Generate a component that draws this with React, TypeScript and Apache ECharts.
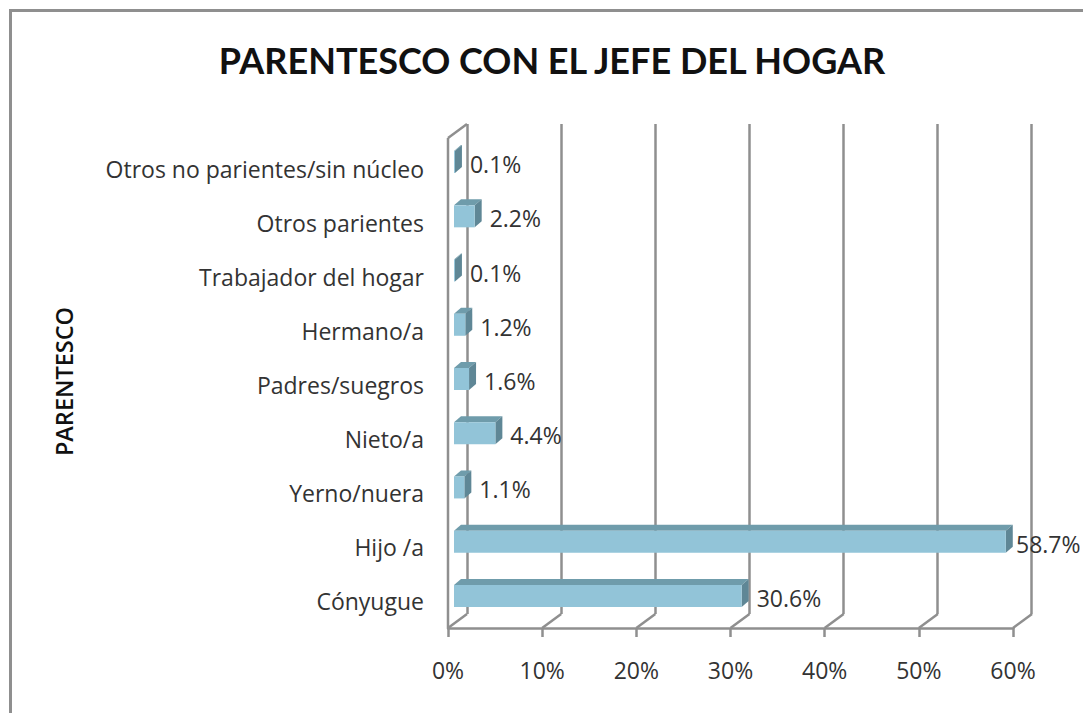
import React, { useEffect, useRef } from "react";
import * as echarts from "echarts";

const categories = ["Cónyugue", "Hijo /a", "Yerno/nuera", "Nieto/a", "Padres/suegros", "Hermano/a", "Trabajador del hogar", "Otros parientes", "Otros no parientes/sin núcleo"];
const values = [30.6, 58.7, 1.1, 4.4, 1.6, 1.2, 0.1, 2.2, 0.1];
const xTicks = [0, 10, 20, 30, 40, 50, 60];
const titleText = "PARENTESCO CON EL JEFE DEL HOGAR";
const yAxisName = "PARENTESCO";
const FONT = "'Open Sans', sans-serif";
const TITLE_FONT = "Lato, 'Open Sans', sans-serif";
const GRID = "#8f8f8f";
const FACE = "#92c4d8";
const SIDE = "#5f8796";
const TOP = "#6f9cab";
const TEXT = "#333333";

export default function App() {
  const ref = useRef<HTMLDivElement>(null);
  useEffect(() => {
    const chart = echarts.init(ref.current!, undefined, { renderer: "svg" });
    const hiddenCat = { type: "category", data: categories, axisLine: { show: false }, axisTick: { show: false }, axisLabel: { show: false } };
    const xBase = { type: "value", min: 0, max: 60, interval: 10 };
    chart.setOption({
      animation: false,
      backgroundColor: "#fff",
      title: { text: titleText, left: 547, top: 37, textAlign: "center", textStyle: { fontFamily: TITLE_FONT, fontSize: 36, fontWeight: "bold", color: "#111" } },
      grid: [
        { left: 448, right: 70, top: 142, bottom: 85 },
        { left: 467, right: 52, top: 124, bottom: 99 },
        { left: 454, right: 65, top: 135, bottom: 90 },
      ],
      xAxis: [
        { ...xBase, gridIndex: 0, axisLine: { show: true, lineStyle: { color: GRID, width: 2.5 } }, axisTick: { show: true, length: 9, lineStyle: { color: GRID, width: 2.5 } }, splitLine: { show: false }, axisLabel: { margin: 30, fontFamily: FONT, fontSize: 23, color: TEXT, formatter: "{value}%" } },
        { ...xBase, gridIndex: 1, axisLine: { show: false }, axisTick: { show: false }, axisLabel: { show: false }, splitLine: { show: true, lineStyle: { color: GRID, width: 2.5 } } },
        { ...xBase, gridIndex: 2, axisLine: { show: false }, axisTick: { show: false }, axisLabel: { show: false }, splitLine: { show: false } },
      ],
      yAxis: [
        { type: "category", data: categories, gridIndex: 0, axisLine: { show: false }, axisTick: { show: false }, axisLabel: { margin: 24, fontFamily: FONT, fontSize: 23, color: TEXT }, name: yAxisName, nameLocation: "middle", nameGap: 372, nameTextStyle: { fontFamily: FONT, fontSize: 23.5, fontWeight: 600, color: "#111", padding: [0, 0, 0, 7] } },
        { ...hiddenCat, gridIndex: 1 },
        { ...hiddenCat, gridIndex: 2 },
      ],
      series: [
        {
          // wall and floor edges, drawn from the tick values of the front axis
          type: "custom", xAxisIndex: 0, yAxisIndex: 0, z: 1, clip: false, silent: true,
          data: xTicks.map((t) => [t]),
          renderItem: (_p: any, api: any) => {
            const x = api.coord([api.value(0), 0])[0];
            const lineStyle = { stroke: GRID, lineWidth: 2.5 };
            const children: any[] = [{ type: "line", shape: { x1: x, y1: 628, x2: x + 19, y2: 614 }, style: lineStyle }];
            if (api.value(0) === 0) {
              children.push({ type: "line", shape: { x1: x, y1: 138, x2: x, y2: 628 }, style: lineStyle });
              children.push({ type: "line", shape: { x1: x, y1: 138, x2: x + 19, y2: 124 }, style: lineStyle });
            }
            return { type: "group", children };
          },
        },
        {
          type: "custom", xAxisIndex: 2, yAxisIndex: 2, z: 3, clip: false,
          data: values.map((v, i) => [v, i]),
          renderItem: (_p: any, api: any) => {
            const v = api.value(0);
            const [x1, yc] = api.coord([v, api.value(1)]);
            const x0 = api.coord([0, api.value(1)])[0];
            const h = 22, dx = 7, dy = 6;
            const y0 = yc - h / 2, y1 = yc + h / 2;
            const gap = x1 + dx + 8 + 66 > 1082 ? 1082 - 66 - x1 - dx : 8;
            return {
              type: "group",
              children: [
                { type: "polygon", shape: { points: [[x0, y0], [x0 + dx, y0 - dy], [x1 + dx, y0 - dy], [x1, y0]] }, style: { fill: TOP } },
                { type: "polygon", shape: { points: [[x1, y0], [x1 + dx, y0 - dy], [x1 + dx, y1 - dy], [x1, y1]] }, style: { fill: SIDE } },
                { type: "rect", shape: { x: x0, y: y0, width: x1 - x0, height: h }, style: { fill: FACE } },
                { type: "text", x: x1 + dx + gap, y: yc + 2, style: { text: v.toFixed(1) + "%", fontFamily: FONT, fontSize: 23, fill: TEXT, verticalAlign: "middle" } },
              ],
            };
          },
        },
      ],
      graphic: [
        { type: "polyline", shape: { points: [[1083, 10.5], [10.5, 10.5], [10.5, 713]] }, style: { stroke: "#8f8f8f", lineWidth: 3, fill: "none" } },
      ],
    });
    return () => chart.dispose();
  }, []);
  return <div ref={ref} style={{ position: "absolute", left: 0, top: 0, width: 1083, height: 713 }} />;
}
